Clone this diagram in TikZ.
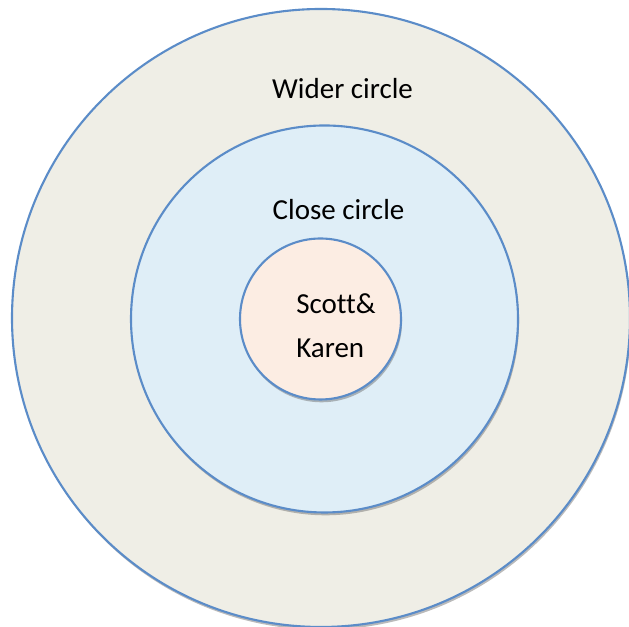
\documentclass[tikz,border=0pt]{standalone}
\usepackage{fontspec}
\setmainfont{Carlito}[Ligatures={NoCommon}]
\usepackage{tikz}
\usetikzlibrary{positioning,shadows}

\definecolor{ringline}{HTML}{5B8CC8}
\definecolor{widerfill}{HTML}{EFEEE6}
\definecolor{closefill}{HTML}{DFEEF7}
\definecolor{corefill}{HTML}{FCEDE3}

\tikzset{
  ring/.style={circle,draw=ringline,line width=1.2pt,inner sep=0pt,
    drop shadow={shadow xshift=0.6pt,shadow yshift=-1.6pt,opacity=0.45,fill=black!60}},
  label/.style={font=\fontsize{16.5}{25}\selectfont,align=left}
}

\begin{document}
\begin{tikzpicture}

  \useasboundingbox (0,0) rectangle (12.58,12.54);

  \node[ring,fill=widerfill,minimum size=12.36cm] (wider) at (6.42,6.18) {};
  \node[ring,fill=closefill,minimum size=7.74cm] (close) at (6.49,6.16) {};
  \node[ring,fill=corefill,minimum size=3.22cm] (core) at (6.41,6.16) {};

  \node[label] (widertext) at (6.85,10.77) {Wider circle};
  \node[label] (closetext) at (6.77,8.34) {Close circle};
  \node[label] (coretext) at (6.72,6.02) {Scott\&\\Karen};

\end{tikzpicture}
\end{document}
